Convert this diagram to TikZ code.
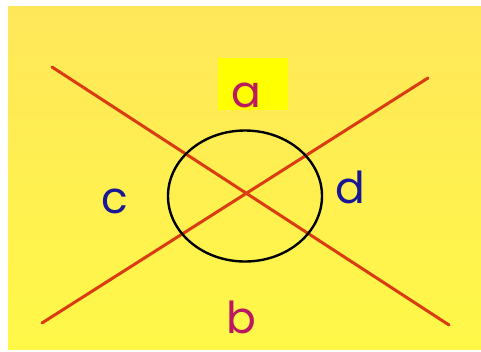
\documentclass[tikz,border=0pt]{standalone}
\usepackage{fontspec}
\setmainfont{Poppins}
\usetikzlibrary{shapes.geometric}
\definecolor{bgtop}{RGB}{255,231,90}
\definecolor{bgbot}{RGB}{255,248,72}
\definecolor{redline}{RGB}{218,60,18}
\definecolor{magtext}{RGB}{186,24,96}
\definecolor{bluetext}{RGB}{24,24,150}
\definecolor{hlyellow}{RGB}{255,255,0}
\tikzset{
  redstroke/.style={draw=redline, line width=3pt, line cap=round},
  lbl/.style={font=\fontsize{44}{48}\selectfont, inner sep=0pt},
}
\begin{document}
\begin{tikzpicture}[x=1pt,y=-1pt]
\useasboundingbox (0,0) rectangle (481,351);
\fill[white] (0,0) rectangle (481,351);
\shade[top color=bgtop, bottom color=bgbot] (8,6) rectangle (481,349);
\fill[hlyellow] (218,58) rectangle (288,110);
\coordinate (l1a) at (52,67);
\coordinate (l1b) at (449,325);
\coordinate (l2a) at (42,323);
\coordinate (l2b) at (428,78);
\draw[redstroke] (l1a) -- (l1b);
\draw[redstroke] (l2a) -- (l2b);
\node[draw=black, line width=2.4pt, ellipse, minimum width=154pt, minimum height=131pt, inner sep=0pt] (circ) at (245,196) {};
\node[lbl, text=magtext, anchor=base] (a) at (246,107) {a};
\node[lbl, text=magtext, anchor=base] (b) at (241,333) {b};
\node[lbl, text=bluetext, anchor=base] (c) at (115,213) {c};
\node[lbl, text=bluetext, anchor=base] (d) at (350,203) {d};
\end{tikzpicture}
\end{document}
